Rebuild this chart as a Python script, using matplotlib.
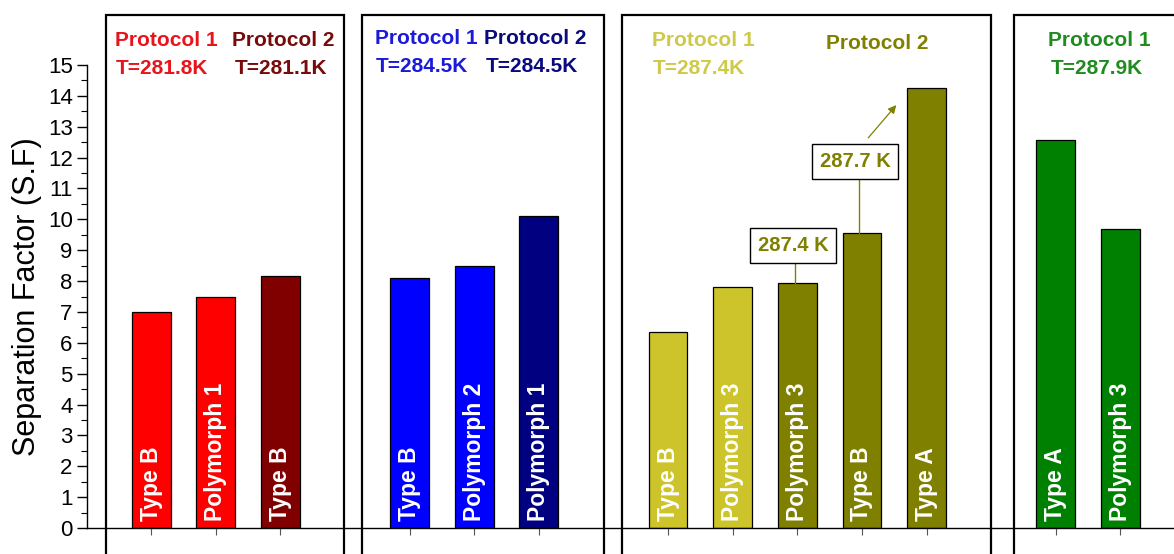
"""Separation factor bar chart, four temperature panels."""
import matplotlib
matplotlib.use("Agg")
import matplotlib.pyplot as plt
from matplotlib.patches import Rectangle
from matplotlib.ticker import MultipleLocator

plt.rcParams["font.family"] = ["Liberation Sans", "DejaVu Sans"]

# data
group_sizes = [3, 3, 5, 2]
sf_values = [7.0, 7.5, 8.15, 8.1, 8.5, 10.1, 6.35, 7.82, 7.94, 9.55, 14.27, 12.58, 9.69]
bar_labels = ["Type B", "Polymorph 1", "Type B",
              "Type B", "Polymorph 2", "Polymorph 1",
              "Type B", "Polymorph 3", "Polymorph 3", "Type B", "Type A",
              "Type A", "Polymorph 3"]
bar_colors = ["#FF0000", "#FF0000", "#800000",
              "#0000FF", "#0000FF", "#000080",
              "#CCC42A", "#CCC42A", "#808000", "#808000", "#808000",
              "#008000", "#008000"]

# x positions: one slot per bar, one empty slot between panels
xs = []
pos = 1
for n in group_sizes:
    xs.extend(range(pos, pos + n))
    pos += n + 1

fig = plt.figure(figsize=(11.74, 5.54), dpi=100)
ax = fig.add_axes([0.0737, 0.0469, 0.9263, 0.8358])

ax.bar(xs, sf_values, width=0.6, color=bar_colors, edgecolor="black",
       linewidth=0.9, zorder=2)

for x, lab in zip(xs, bar_labels):
    ax.text(x, 0.22, lab, rotation=90, ha="center", va="bottom",
            color="white", fontsize=16.5, fontweight="bold", zorder=3)

ax.set_xlim(0, 16.83)
ax.set_ylim(0, 15)
ax.spines["top"].set_visible(False)
ax.spines["right"].set_visible(False)
ax.spines["left"].set_bounds(0, 15)
ax.spines["left"].set_linewidth(1.0)
ax.spines["bottom"].set_linewidth(1.0)

ax.yaxis.set_major_locator(MultipleLocator(1))
ax.yaxis.set_minor_locator(MultipleLocator(0.5))
ax.tick_params(axis="y", which="major", length=7, width=1.0, labelsize=16, pad=3)
ax.tick_params(axis="y", which="minor", length=4, width=0.8)
ax.set_xticks(xs)
ax.set_xticklabels([])
ax.tick_params(axis="x", length=5, width=0.8, color="#555555")
ax.set_ylabel("Separation Factor (S.F)", fontsize=22, labelpad=4)

# panel frames
frames = [(0.30, 3.99), (4.26, 8.01), (8.29, 14.0), (14.36, 18.0)]
for x0, x1 in frames:
    ax.add_patch(Rectangle((x0, -1.2), x1 - x0, 16.63 + 1.2, fill=False,
                           edgecolor="black", linewidth=1.6, clip_on=False,
                           zorder=4))

# panel headers
hdr = dict(fontsize=15, fontweight="bold", va="center", clip_on=False)
ax.text(0.44, 15.8, "Protocol 1", color="#E8141C", ha="left", **hdr)
ax.text(0.46, 14.9, "T=281.8K", color="#E8141C", ha="left", **hdr)
ax.text(2.25, 15.8, "Protocol 2", color="#780A0A", ha="left", **hdr)
ax.text(2.29, 14.9, "T=281.1K", color="#780A0A", ha="left", **hdr)

ax.text(4.46, 15.85, "Protocol 1", color="#1A1AD8", ha="left", **hdr)
ax.text(4.47, 14.95, "T=284.5K", color="#1A1AD8", ha="left", **hdr)
ax.text(6.15, 15.85, "Protocol 2", color="#0A0A80", ha="left", **hdr)
ax.text(6.18, 14.95, "T=284.5K", color="#0A0A80", ha="left", **hdr)

ax.text(8.75, 15.8, "Protocol 1", color="#CFC94A", ha="left", **hdr)
ax.text(8.76, 14.9, "T=287.4K", color="#CFC94A", ha="left", **hdr)
ax.text(11.44, 15.68, "Protocol 2", color="#808000", ha="left", **hdr)

ax.text(15.68, 15.8, "Protocol 1", color="#1E8C1E", ha="center", **hdr)
ax.text(15.63, 14.9, "T=287.9K", color="#1E8C1E", ha="center", **hdr)

# temperature call-outs on protocol 2 bars
box = dict(boxstyle="square,pad=0.38", facecolor="white", edgecolor="black",
           linewidth=1.0)
ax.plot([10.97, 10.97], [sf_values[8], 8.6], color="#808000", lw=1.0, zorder=3)
ax.text(10.94, 9.15, "287.4 K", color="#808000", fontsize=14.5, fontweight="bold",
        ha="center", va="center", bbox=box, zorder=5)
ax.plot([11.96, 11.96], [sf_values[9], 11.34], color="#808000", lw=1.0, zorder=3)
ax.text(11.9, 11.87, "287.7 K", color="#808000", fontsize=14.5, fontweight="bold",
        ha="center", va="center", bbox=box, zorder=5)
ax.annotate("", xy=(12.56, 13.77), xytext=(12.07, 12.57),
            arrowprops=dict(arrowstyle="-|>", color="#808000", lw=0.9,
                            mutation_scale=12))

fig.savefig("out.png", dpi=100)
